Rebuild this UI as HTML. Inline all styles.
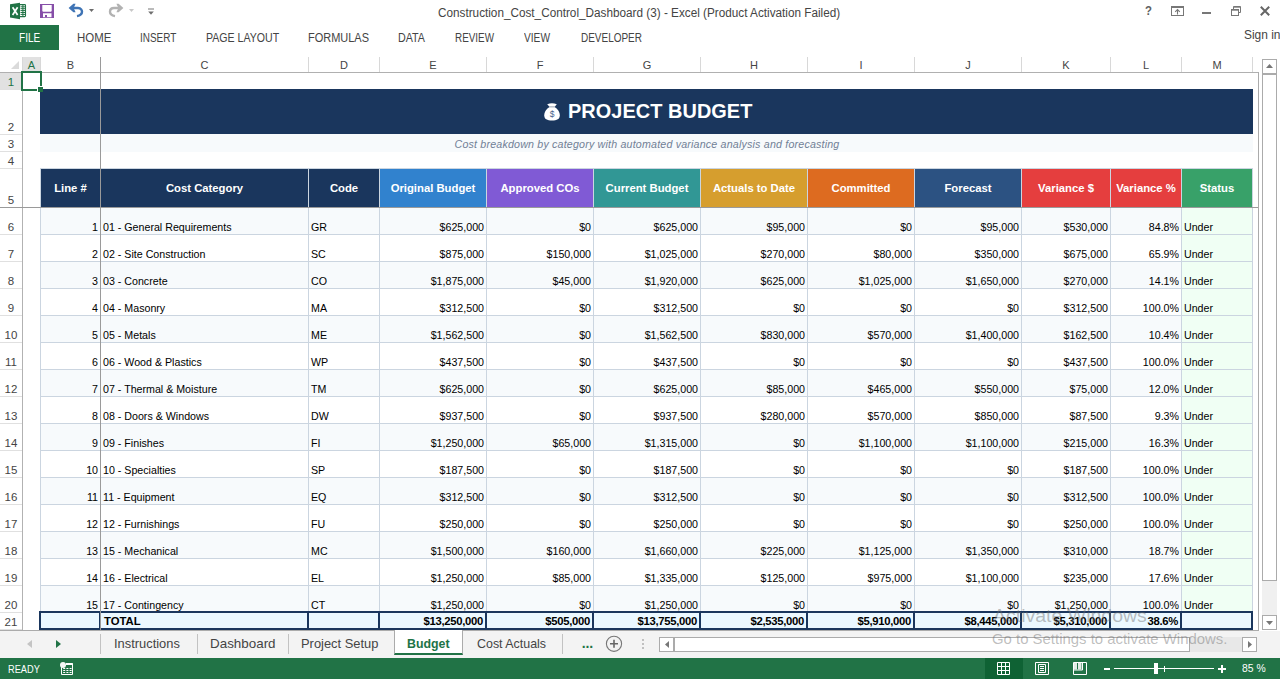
<!DOCTYPE html>
<html lang="en"><head><meta charset="utf-8"><title>Construction_Cost_Control_Dashboard (3) - Excel</title>
<style>
*{box-sizing:border-box;margin:0;padding:0}
html,body{width:1280px;height:679px;overflow:hidden;background:#fff}
body{position:relative;font-family:"Liberation Sans",sans-serif;color:#000}
.a{position:absolute;white-space:nowrap}
.ch{position:absolute;top:57px;height:15px;font-size:11px;line-height:17px;text-align:center;color:#444}
.vs{position:absolute;top:57px;width:1px;height:15px;background:#d8d8d8}
.rh{position:absolute;left:0;width:22px;font-size:11.5px;color:#444;text-align:center;border-bottom:1px solid #e0e0e0}
.rh span{position:absolute;left:0;right:0;bottom:0px;line-height:14px}
.hc{position:absolute;top:169px;height:38px;color:#fff;font-weight:bold;font-size:11.3px;text-align:center;line-height:38px}
.c{position:absolute;font-size:10.67px;overflow:hidden;color:#000}
.c span{position:absolute;bottom:0px;line-height:13px;white-space:nowrap}
.c.r span{right:2px}
.c.l span{left:2px}
.t{position:absolute;font-size:11.3px;font-weight:bold;background:#ebf8ff;overflow:hidden;color:#000}
.t span{position:absolute;bottom:0px;line-height:13px;white-space:nowrap}
.t.r span{right:2px;letter-spacing:-0.3px}
.t.l span{left:3px}
.ln{position:absolute;background:#cbd5e0}
.nb{position:absolute;background:#1a365d}
.sb{position:absolute;background:#fff;border:1px solid #ababab}
</style></head><body>

<div class="a" id="title" style="font-size:12px;line-height:20px;color:#444;left:437.70px;top:2.64px;transform-origin:0 0;transform:scaleX(0.9788);">Construction_Cost_Control_Dashboard (3) - Excel (Product Activation Failed)</div>
<svg class="a" style="left:10px;top:2px" width="17" height="18" viewBox="0 0 17 18">
<rect x="9" y="2.6" width="6.5" height="12" rx="0.8" fill="#fff" stroke="#217346" stroke-width="1.1"/>
<path d="M10.5 4.8h4.5M10.5 6.7h4.5M10.5 8.6h4.5M10.5 10.5h4.5M10.5 12.4h4.5M12.9 3v11" stroke="#217346" stroke-width="1" fill="none"/>
<path d="M0 2.2 L10 0.8 V17.2 L0 15.6Z" fill="#217346"/>
<path d="M2.6 5.2 L7.6 13 M7.6 5.2 L2.6 13" stroke="#fff" stroke-width="1.7" fill="none"/>
</svg>
<svg class="a" style="left:40px;top:4px" width="14" height="14" viewBox="0 0 14 14">
<path d="M0 0h14v14H0z M2.3 1v6l0.7 0.7h8l0.7-0.7V1z M3 9.2v4h8.5v-4z" fill="#864ea8" fill-rule="evenodd"/>
<rect x="5" y="11" width="2" height="2.2" fill="#864ea8"/>
</svg>
<svg class="a" style="left:68px;top:3px" width="16" height="15" viewBox="0 0 16 15">
<path d="M4 5 H10 C13.2 5 14 7.4 14 8.8 C14 11.3 12 12.6 9 13.1" fill="none" stroke="#3f74b5" stroke-width="2.4"/>
<path d="M0.6 5 L5.4 0.8 H7.6 L5.6 5 L7.6 9.2 H5.4Z" fill="#3f74b5"/>
</svg>
<svg class="a" style="left:89px;top:9px" width="5" height="3" viewBox="0 0 5 3"><path d="M0 0h5L2.5 3z" fill="#6a6a6a"/></svg>
<svg class="a" style="left:108px;top:3px" width="16" height="15" viewBox="0 0 16 15">
<path d="M12 5 H6 C2.8 5 2 7.4 2 8.8 C2 11.3 4 12.6 7 13.1" fill="none" stroke="#b2b2b2" stroke-width="2.4"/>
<path d="M15.4 5 L10.6 0.8 H8.4 L10.4 5 L8.4 9.2 H10.6Z" fill="#b2b2b2"/>
</svg>
<svg class="a" style="left:129px;top:9px" width="5" height="3" viewBox="0 0 5 3"><path d="M0 0h5L2.5 3z" fill="#c8c8c8"/></svg>
<svg class="a" style="left:148px;top:8px" width="6" height="7" viewBox="0 0 6 7"><path d="M0 1h6" stroke="#777" stroke-width="1"/><path d="M0.2 3.4h5.6L3 6.8z" fill="#6e6e6e"/></svg>
<div class="a" style="font-size:13px;line-height:20px;color:#606060;font-weight:bold;left:1145.00px;top:1.30px;transform-origin:0 0;transform:scaleX(0.8750);">?</div>
<svg class="a" style="left:1171px;top:6px" width="13" height="10" viewBox="0 0 13 10">
<rect x="0.5" y="0.5" width="12" height="9" fill="none" stroke="#777"/><path d="M0 1.5h13" stroke="#777"/>
<path d="M6.5 3.6V8.4M4.2 5.8L6.5 3.6L8.8 5.8" stroke="#777" fill="none" stroke-width="1.1"/></svg>
<div class="a" style="left:1202px;top:12px;width:9px;height:2px;background:#777"></div>
<svg class="a" style="left:1231px;top:6px" width="10" height="10" viewBox="0 0 10 10">
<path d="M2.5 3V0.5H9.5V6.5H7.5" fill="none" stroke="#777"/><path d="M2.5 1.2h7" stroke="#777"/>
<rect x="0.5" y="3.5" width="7" height="6" fill="#fff" stroke="#777"/><path d="M0.5 4.2h7" stroke="#777"/></svg>
<svg class="a" style="left:1260px;top:6px" width="10" height="10" viewBox="0 0 10 10"><path d="M0.8 0.8 L9.2 9.2 M9.2 0.8 L0.8 9.2" stroke="#666" stroke-width="2" fill="none"/></svg>
<div class="a" style="left:0;top:25px;width:59px;height:25px;background:#217346"></div>
<div class="a" style="font-size:12px;line-height:20px;color:#fff;left:19.20px;top:27.64px;transform-origin:0 0;transform:scaleX(0.8367);">FILE</div>
<div class="a" style="font-size:12px;line-height:20px;color:#444;left:76.50px;top:27.64px;transform-origin:0 0;transform:scaleX(0.9529);">HOME</div>
<div class="a" style="font-size:12px;line-height:20px;color:#444;left:139.67px;top:27.64px;transform-origin:0 0;transform:scaleX(0.8284);">INSERT</div>
<div class="a" style="font-size:12px;line-height:20px;color:#444;left:205.70px;top:27.64px;transform-origin:0 0;transform:scaleX(0.8818);">PAGE LAYOUT</div>
<div class="a" style="font-size:12px;line-height:20px;color:#444;left:308.20px;top:27.64px;transform-origin:0 0;transform:scaleX(0.9150);">FORMULAS</div>
<div class="a" style="font-size:12px;line-height:20px;color:#444;left:398.40px;top:27.64px;transform-origin:0 0;transform:scaleX(0.8935);">DATA</div>
<div class="a" style="font-size:12px;line-height:20px;color:#444;left:455.40px;top:27.64px;transform-origin:0 0;transform:scaleX(0.8227);">REVIEW</div>
<div class="a" style="font-size:12px;line-height:20px;color:#444;left:524.40px;top:27.64px;transform-origin:0 0;transform:scaleX(0.8487);">VIEW</div>
<div class="a" style="font-size:12px;line-height:20px;color:#444;left:580.50px;top:27.64px;transform-origin:0 0;transform:scaleX(0.8305);">DEVELOPER</div>
<div class="a" style="left:1244px;top:24.5px;font-size:12.3px;line-height:20px;color:#444;transform-origin:0 0;transform:scaleX(0.97)">Sign in</div>
<svg class="a" style="left:11px;top:61px" width="8" height="8" viewBox="0 0 8 8"><path d="M8 0V8H0z" fill="#dadada"/></svg>
<div class="ch" style="left:23px;width:17px;background:#e1e1e1;color:#217346;">A</div>
<div class="ch" style="left:41px;width:59px;">B</div>
<div class="ch" style="left:101px;width:207px;">C</div>
<div class="ch" style="left:309px;width:70px;">D</div>
<div class="ch" style="left:380px;width:106px;">E</div>
<div class="ch" style="left:487px;width:106px;">F</div>
<div class="ch" style="left:594px;width:106px;">G</div>
<div class="ch" style="left:701px;width:106px;">H</div>
<div class="ch" style="left:808px;width:106px;">I</div>
<div class="ch" style="left:915px;width:106px;">J</div>
<div class="ch" style="left:1022px;width:88px;">K</div>
<div class="ch" style="left:1111px;width:70px;">L</div>
<div class="ch" style="left:1182px;width:70px;">M</div>
<div class="vs" style="left:22px"></div>
<div class="vs" style="left:40px"></div>
<div class="vs" style="left:308px"></div>
<div class="vs" style="left:379px"></div>
<div class="vs" style="left:486px"></div>
<div class="vs" style="left:593px"></div>
<div class="vs" style="left:700px"></div>
<div class="vs" style="left:807px"></div>
<div class="vs" style="left:914px"></div>
<div class="vs" style="left:1021px"></div>
<div class="vs" style="left:1110px"></div>
<div class="vs" style="left:1181px"></div>
<div class="vs" style="left:1252px"></div>
<div class="a" style="left:0;top:72px;width:1259px;height:1px;background:#b0b0b0"></div>
<div class="rh" style="top:73px;height:17px;background:#e1e1e1;color:#217346;"><span>1</span></div>
<div class="rh" style="top:90px;height:45px;"><span>2</span></div>
<div class="rh" style="top:135px;height:17px;"><span>3</span></div>
<div class="rh" style="top:152px;height:17px;"><span>4</span></div>
<div class="rh" style="top:169px;height:39px;"><span>5</span></div>
<div class="rh" style="top:208px;height:27px;"><span>6</span></div>
<div class="rh" style="top:235px;height:27px;"><span>7</span></div>
<div class="rh" style="top:262px;height:27px;"><span>8</span></div>
<div class="rh" style="top:289px;height:27px;"><span>9</span></div>
<div class="rh" style="top:316px;height:27px;"><span>10</span></div>
<div class="rh" style="top:343px;height:27px;"><span>11</span></div>
<div class="rh" style="top:370px;height:27px;"><span>12</span></div>
<div class="rh" style="top:397px;height:27px;"><span>13</span></div>
<div class="rh" style="top:424px;height:27px;"><span>14</span></div>
<div class="rh" style="top:451px;height:27px;"><span>15</span></div>
<div class="rh" style="top:478px;height:27px;"><span>16</span></div>
<div class="rh" style="top:505px;height:27px;"><span>17</span></div>
<div class="rh" style="top:532px;height:27px;"><span>18</span></div>
<div class="rh" style="top:559px;height:27px;"><span>19</span></div>
<div class="rh" style="top:586px;height:27px;"><span>20</span></div>
<div class="rh" style="top:613px;height:17px;"><span>21</span></div>
<div class="a" style="left:22px;top:73px;width:1px;height:558px;background:#b2b2b2"></div>
<div class="a" style="left:40px;top:89px;width:1213px;height:45px;background:#1a365d"></div>
<div class="a" id="ttl" style="font-size:19.9px;line-height:20px;color:#fff;font-weight:bold;left:568.00px;top:101.35px;letter-spacing:0.069px;">PROJECT BUDGET</div>
<svg class="a" style="left:543.5px;top:102.8px" width="16" height="18" viewBox="0 0 16 18">
<path d="M3.2 1.3 Q8 -0.7 12.8 1.3 L11 3.5 H5.2Z" fill="#fff"/>
<rect x="5.2" y="3.3" width="5.8" height="1.1" fill="#cfd3d8"/>
<path d="M5.2 4.3 H10.9 C12.6 5.2 15.8 8.4 15.8 12.2 C15.8 16.2 13 17.4 8 17.4 C3 17.4 0.25 16.2 0.25 12.2 C0.25 8.4 3.5 5.2 5.2 4.3Z" fill="#fff"/>
<text x="8" y="13.6" font-size="8.5" text-anchor="middle" fill="#4a5f8a" font-family="Liberation Sans, sans-serif">$</text>
</svg>
<div class="a" style="left:40px;top:134px;width:1213px;height:18px;background:#f7fafc"></div>
<div class="a" id="sub" style="font-size:10.67px;line-height:20px;color:#718096;font-style:italic;left:454.50px;top:134.05px;letter-spacing:0.189px;">Cost breakdown by category with automated variance analysis and forecasting</div>
<div class="ln" style="left:40px;top:168px;width:1213px;height:1px"></div>
<div class="hc" style="left:41px;width:59px;background:#1a365d">Line #</div>
<div class="hc" style="left:101px;width:207px;background:#1a365d">Cost Category</div>
<div class="hc" style="left:309px;width:70px;background:#1a365d">Code</div>
<div class="hc" style="left:380px;width:106px;background:#3182ce">Original Budget</div>
<div class="hc" style="left:487px;width:106px;background:#805ad5">Approved COs</div>
<div class="hc" style="left:594px;width:106px;background:#319795">Current Budget</div>
<div class="hc" style="left:701px;width:106px;background:#d69e2e">Actuals to Date</div>
<div class="hc" style="left:808px;width:106px;background:#dd6b20">Committed</div>
<div class="hc" style="left:915px;width:106px;background:#2c5282">Forecast</div>
<div class="hc" style="left:1022px;width:88px;background:#e53e3e">Variance $</div>
<div class="hc" style="left:1111px;width:70px;background:#e53e3e">Variance %</div>
<div class="hc" style="left:1182px;width:70px;background:#38a169">Status</div>
<div class="ln" style="left:40px;top:168px;width:1px;height:39px"></div>
<div class="ln" style="left:100px;top:168px;width:1px;height:39px"></div>
<div class="ln" style="left:308px;top:168px;width:1px;height:39px"></div>
<div class="ln" style="left:379px;top:168px;width:1px;height:39px"></div>
<div class="ln" style="left:486px;top:168px;width:1px;height:39px"></div>
<div class="ln" style="left:593px;top:168px;width:1px;height:39px"></div>
<div class="ln" style="left:700px;top:168px;width:1px;height:39px"></div>
<div class="ln" style="left:807px;top:168px;width:1px;height:39px"></div>
<div class="ln" style="left:914px;top:168px;width:1px;height:39px"></div>
<div class="ln" style="left:1021px;top:168px;width:1px;height:39px"></div>
<div class="ln" style="left:1110px;top:168px;width:1px;height:39px"></div>
<div class="ln" style="left:1181px;top:168px;width:1px;height:39px"></div>
<div class="ln" style="left:1252px;top:168px;width:1px;height:39px"></div>
<div class="c r" style="left:41px;top:208px;width:59px;height:26px;background:#f7fafc"><span>1</span></div>
<div class="c l" style="left:101px;top:208px;width:207px;height:26px;background:#f7fafc"><span>01 - General Requirements</span></div>
<div class="c l" style="left:309px;top:208px;width:70px;height:26px;background:#f7fafc"><span>GR</span></div>
<div class="c r" style="left:380px;top:208px;width:106px;height:26px;background:#f7fafc"><span>$625,000</span></div>
<div class="c r" style="left:487px;top:208px;width:106px;height:26px;background:#f7fafc"><span>$0</span></div>
<div class="c r" style="left:594px;top:208px;width:106px;height:26px;background:#f7fafc"><span>$625,000</span></div>
<div class="c r" style="left:701px;top:208px;width:106px;height:26px;background:#f7fafc"><span>$95,000</span></div>
<div class="c r" style="left:808px;top:208px;width:106px;height:26px;background:#f7fafc"><span>$0</span></div>
<div class="c r" style="left:915px;top:208px;width:106px;height:26px;background:#f7fafc"><span>$95,000</span></div>
<div class="c r" style="left:1022px;top:208px;width:88px;height:26px;background:#f7fafc"><span>$530,000</span></div>
<div class="c r" style="left:1111px;top:208px;width:70px;height:26px;background:#f7fafc"><span>84.8%</span></div>
<div class="c l" style="left:1182px;top:208px;width:70px;height:26px;background:#f0fff4"><span>Under</span></div>
<div class="c r" style="left:41px;top:235px;width:59px;height:26px;background:#ffffff"><span>2</span></div>
<div class="c l" style="left:101px;top:235px;width:207px;height:26px;background:#ffffff"><span>02 - Site Construction</span></div>
<div class="c l" style="left:309px;top:235px;width:70px;height:26px;background:#ffffff"><span>SC</span></div>
<div class="c r" style="left:380px;top:235px;width:106px;height:26px;background:#ffffff"><span>$875,000</span></div>
<div class="c r" style="left:487px;top:235px;width:106px;height:26px;background:#ffffff"><span>$150,000</span></div>
<div class="c r" style="left:594px;top:235px;width:106px;height:26px;background:#ffffff"><span>$1,025,000</span></div>
<div class="c r" style="left:701px;top:235px;width:106px;height:26px;background:#ffffff"><span>$270,000</span></div>
<div class="c r" style="left:808px;top:235px;width:106px;height:26px;background:#ffffff"><span>$80,000</span></div>
<div class="c r" style="left:915px;top:235px;width:106px;height:26px;background:#ffffff"><span>$350,000</span></div>
<div class="c r" style="left:1022px;top:235px;width:88px;height:26px;background:#ffffff"><span>$675,000</span></div>
<div class="c r" style="left:1111px;top:235px;width:70px;height:26px;background:#ffffff"><span>65.9%</span></div>
<div class="c l" style="left:1182px;top:235px;width:70px;height:26px;background:#f0fff4"><span>Under</span></div>
<div class="c r" style="left:41px;top:262px;width:59px;height:26px;background:#f7fafc"><span>3</span></div>
<div class="c l" style="left:101px;top:262px;width:207px;height:26px;background:#f7fafc"><span>03 - Concrete</span></div>
<div class="c l" style="left:309px;top:262px;width:70px;height:26px;background:#f7fafc"><span>CO</span></div>
<div class="c r" style="left:380px;top:262px;width:106px;height:26px;background:#f7fafc"><span>$1,875,000</span></div>
<div class="c r" style="left:487px;top:262px;width:106px;height:26px;background:#f7fafc"><span>$45,000</span></div>
<div class="c r" style="left:594px;top:262px;width:106px;height:26px;background:#f7fafc"><span>$1,920,000</span></div>
<div class="c r" style="left:701px;top:262px;width:106px;height:26px;background:#f7fafc"><span>$625,000</span></div>
<div class="c r" style="left:808px;top:262px;width:106px;height:26px;background:#f7fafc"><span>$1,025,000</span></div>
<div class="c r" style="left:915px;top:262px;width:106px;height:26px;background:#f7fafc"><span>$1,650,000</span></div>
<div class="c r" style="left:1022px;top:262px;width:88px;height:26px;background:#f7fafc"><span>$270,000</span></div>
<div class="c r" style="left:1111px;top:262px;width:70px;height:26px;background:#f7fafc"><span>14.1%</span></div>
<div class="c l" style="left:1182px;top:262px;width:70px;height:26px;background:#f0fff4"><span>Under</span></div>
<div class="c r" style="left:41px;top:289px;width:59px;height:26px;background:#ffffff"><span>4</span></div>
<div class="c l" style="left:101px;top:289px;width:207px;height:26px;background:#ffffff"><span>04 - Masonry</span></div>
<div class="c l" style="left:309px;top:289px;width:70px;height:26px;background:#ffffff"><span>MA</span></div>
<div class="c r" style="left:380px;top:289px;width:106px;height:26px;background:#ffffff"><span>$312,500</span></div>
<div class="c r" style="left:487px;top:289px;width:106px;height:26px;background:#ffffff"><span>$0</span></div>
<div class="c r" style="left:594px;top:289px;width:106px;height:26px;background:#ffffff"><span>$312,500</span></div>
<div class="c r" style="left:701px;top:289px;width:106px;height:26px;background:#ffffff"><span>$0</span></div>
<div class="c r" style="left:808px;top:289px;width:106px;height:26px;background:#ffffff"><span>$0</span></div>
<div class="c r" style="left:915px;top:289px;width:106px;height:26px;background:#ffffff"><span>$0</span></div>
<div class="c r" style="left:1022px;top:289px;width:88px;height:26px;background:#ffffff"><span>$312,500</span></div>
<div class="c r" style="left:1111px;top:289px;width:70px;height:26px;background:#ffffff"><span>100.0%</span></div>
<div class="c l" style="left:1182px;top:289px;width:70px;height:26px;background:#f0fff4"><span>Under</span></div>
<div class="c r" style="left:41px;top:316px;width:59px;height:26px;background:#f7fafc"><span>5</span></div>
<div class="c l" style="left:101px;top:316px;width:207px;height:26px;background:#f7fafc"><span>05 - Metals</span></div>
<div class="c l" style="left:309px;top:316px;width:70px;height:26px;background:#f7fafc"><span>ME</span></div>
<div class="c r" style="left:380px;top:316px;width:106px;height:26px;background:#f7fafc"><span>$1,562,500</span></div>
<div class="c r" style="left:487px;top:316px;width:106px;height:26px;background:#f7fafc"><span>$0</span></div>
<div class="c r" style="left:594px;top:316px;width:106px;height:26px;background:#f7fafc"><span>$1,562,500</span></div>
<div class="c r" style="left:701px;top:316px;width:106px;height:26px;background:#f7fafc"><span>$830,000</span></div>
<div class="c r" style="left:808px;top:316px;width:106px;height:26px;background:#f7fafc"><span>$570,000</span></div>
<div class="c r" style="left:915px;top:316px;width:106px;height:26px;background:#f7fafc"><span>$1,400,000</span></div>
<div class="c r" style="left:1022px;top:316px;width:88px;height:26px;background:#f7fafc"><span>$162,500</span></div>
<div class="c r" style="left:1111px;top:316px;width:70px;height:26px;background:#f7fafc"><span>10.4%</span></div>
<div class="c l" style="left:1182px;top:316px;width:70px;height:26px;background:#f0fff4"><span>Under</span></div>
<div class="c r" style="left:41px;top:343px;width:59px;height:26px;background:#ffffff"><span>6</span></div>
<div class="c l" style="left:101px;top:343px;width:207px;height:26px;background:#ffffff"><span>06 - Wood &amp; Plastics</span></div>
<div class="c l" style="left:309px;top:343px;width:70px;height:26px;background:#ffffff"><span>WP</span></div>
<div class="c r" style="left:380px;top:343px;width:106px;height:26px;background:#ffffff"><span>$437,500</span></div>
<div class="c r" style="left:487px;top:343px;width:106px;height:26px;background:#ffffff"><span>$0</span></div>
<div class="c r" style="left:594px;top:343px;width:106px;height:26px;background:#ffffff"><span>$437,500</span></div>
<div class="c r" style="left:701px;top:343px;width:106px;height:26px;background:#ffffff"><span>$0</span></div>
<div class="c r" style="left:808px;top:343px;width:106px;height:26px;background:#ffffff"><span>$0</span></div>
<div class="c r" style="left:915px;top:343px;width:106px;height:26px;background:#ffffff"><span>$0</span></div>
<div class="c r" style="left:1022px;top:343px;width:88px;height:26px;background:#ffffff"><span>$437,500</span></div>
<div class="c r" style="left:1111px;top:343px;width:70px;height:26px;background:#ffffff"><span>100.0%</span></div>
<div class="c l" style="left:1182px;top:343px;width:70px;height:26px;background:#f0fff4"><span>Under</span></div>
<div class="c r" style="left:41px;top:370px;width:59px;height:26px;background:#f7fafc"><span>7</span></div>
<div class="c l" style="left:101px;top:370px;width:207px;height:26px;background:#f7fafc"><span>07 - Thermal &amp; Moisture</span></div>
<div class="c l" style="left:309px;top:370px;width:70px;height:26px;background:#f7fafc"><span>TM</span></div>
<div class="c r" style="left:380px;top:370px;width:106px;height:26px;background:#f7fafc"><span>$625,000</span></div>
<div class="c r" style="left:487px;top:370px;width:106px;height:26px;background:#f7fafc"><span>$0</span></div>
<div class="c r" style="left:594px;top:370px;width:106px;height:26px;background:#f7fafc"><span>$625,000</span></div>
<div class="c r" style="left:701px;top:370px;width:106px;height:26px;background:#f7fafc"><span>$85,000</span></div>
<div class="c r" style="left:808px;top:370px;width:106px;height:26px;background:#f7fafc"><span>$465,000</span></div>
<div class="c r" style="left:915px;top:370px;width:106px;height:26px;background:#f7fafc"><span>$550,000</span></div>
<div class="c r" style="left:1022px;top:370px;width:88px;height:26px;background:#f7fafc"><span>$75,000</span></div>
<div class="c r" style="left:1111px;top:370px;width:70px;height:26px;background:#f7fafc"><span>12.0%</span></div>
<div class="c l" style="left:1182px;top:370px;width:70px;height:26px;background:#f0fff4"><span>Under</span></div>
<div class="c r" style="left:41px;top:397px;width:59px;height:26px;background:#ffffff"><span>8</span></div>
<div class="c l" style="left:101px;top:397px;width:207px;height:26px;background:#ffffff"><span>08 - Doors &amp; Windows</span></div>
<div class="c l" style="left:309px;top:397px;width:70px;height:26px;background:#ffffff"><span>DW</span></div>
<div class="c r" style="left:380px;top:397px;width:106px;height:26px;background:#ffffff"><span>$937,500</span></div>
<div class="c r" style="left:487px;top:397px;width:106px;height:26px;background:#ffffff"><span>$0</span></div>
<div class="c r" style="left:594px;top:397px;width:106px;height:26px;background:#ffffff"><span>$937,500</span></div>
<div class="c r" style="left:701px;top:397px;width:106px;height:26px;background:#ffffff"><span>$280,000</span></div>
<div class="c r" style="left:808px;top:397px;width:106px;height:26px;background:#ffffff"><span>$570,000</span></div>
<div class="c r" style="left:915px;top:397px;width:106px;height:26px;background:#ffffff"><span>$850,000</span></div>
<div class="c r" style="left:1022px;top:397px;width:88px;height:26px;background:#ffffff"><span>$87,500</span></div>
<div class="c r" style="left:1111px;top:397px;width:70px;height:26px;background:#ffffff"><span>9.3%</span></div>
<div class="c l" style="left:1182px;top:397px;width:70px;height:26px;background:#f0fff4"><span>Under</span></div>
<div class="c r" style="left:41px;top:424px;width:59px;height:26px;background:#f7fafc"><span>9</span></div>
<div class="c l" style="left:101px;top:424px;width:207px;height:26px;background:#f7fafc"><span>09 - Finishes</span></div>
<div class="c l" style="left:309px;top:424px;width:70px;height:26px;background:#f7fafc"><span>FI</span></div>
<div class="c r" style="left:380px;top:424px;width:106px;height:26px;background:#f7fafc"><span>$1,250,000</span></div>
<div class="c r" style="left:487px;top:424px;width:106px;height:26px;background:#f7fafc"><span>$65,000</span></div>
<div class="c r" style="left:594px;top:424px;width:106px;height:26px;background:#f7fafc"><span>$1,315,000</span></div>
<div class="c r" style="left:701px;top:424px;width:106px;height:26px;background:#f7fafc"><span>$0</span></div>
<div class="c r" style="left:808px;top:424px;width:106px;height:26px;background:#f7fafc"><span>$1,100,000</span></div>
<div class="c r" style="left:915px;top:424px;width:106px;height:26px;background:#f7fafc"><span>$1,100,000</span></div>
<div class="c r" style="left:1022px;top:424px;width:88px;height:26px;background:#f7fafc"><span>$215,000</span></div>
<div class="c r" style="left:1111px;top:424px;width:70px;height:26px;background:#f7fafc"><span>16.3%</span></div>
<div class="c l" style="left:1182px;top:424px;width:70px;height:26px;background:#f0fff4"><span>Under</span></div>
<div class="c r" style="left:41px;top:451px;width:59px;height:26px;background:#ffffff"><span>10</span></div>
<div class="c l" style="left:101px;top:451px;width:207px;height:26px;background:#ffffff"><span>10 - Specialties</span></div>
<div class="c l" style="left:309px;top:451px;width:70px;height:26px;background:#ffffff"><span>SP</span></div>
<div class="c r" style="left:380px;top:451px;width:106px;height:26px;background:#ffffff"><span>$187,500</span></div>
<div class="c r" style="left:487px;top:451px;width:106px;height:26px;background:#ffffff"><span>$0</span></div>
<div class="c r" style="left:594px;top:451px;width:106px;height:26px;background:#ffffff"><span>$187,500</span></div>
<div class="c r" style="left:701px;top:451px;width:106px;height:26px;background:#ffffff"><span>$0</span></div>
<div class="c r" style="left:808px;top:451px;width:106px;height:26px;background:#ffffff"><span>$0</span></div>
<div class="c r" style="left:915px;top:451px;width:106px;height:26px;background:#ffffff"><span>$0</span></div>
<div class="c r" style="left:1022px;top:451px;width:88px;height:26px;background:#ffffff"><span>$187,500</span></div>
<div class="c r" style="left:1111px;top:451px;width:70px;height:26px;background:#ffffff"><span>100.0%</span></div>
<div class="c l" style="left:1182px;top:451px;width:70px;height:26px;background:#f0fff4"><span>Under</span></div>
<div class="c r" style="left:41px;top:478px;width:59px;height:26px;background:#f7fafc"><span>11</span></div>
<div class="c l" style="left:101px;top:478px;width:207px;height:26px;background:#f7fafc"><span>11 - Equipment</span></div>
<div class="c l" style="left:309px;top:478px;width:70px;height:26px;background:#f7fafc"><span>EQ</span></div>
<div class="c r" style="left:380px;top:478px;width:106px;height:26px;background:#f7fafc"><span>$312,500</span></div>
<div class="c r" style="left:487px;top:478px;width:106px;height:26px;background:#f7fafc"><span>$0</span></div>
<div class="c r" style="left:594px;top:478px;width:106px;height:26px;background:#f7fafc"><span>$312,500</span></div>
<div class="c r" style="left:701px;top:478px;width:106px;height:26px;background:#f7fafc"><span>$0</span></div>
<div class="c r" style="left:808px;top:478px;width:106px;height:26px;background:#f7fafc"><span>$0</span></div>
<div class="c r" style="left:915px;top:478px;width:106px;height:26px;background:#f7fafc"><span>$0</span></div>
<div class="c r" style="left:1022px;top:478px;width:88px;height:26px;background:#f7fafc"><span>$312,500</span></div>
<div class="c r" style="left:1111px;top:478px;width:70px;height:26px;background:#f7fafc"><span>100.0%</span></div>
<div class="c l" style="left:1182px;top:478px;width:70px;height:26px;background:#f0fff4"><span>Under</span></div>
<div class="c r" style="left:41px;top:505px;width:59px;height:26px;background:#ffffff"><span>12</span></div>
<div class="c l" style="left:101px;top:505px;width:207px;height:26px;background:#ffffff"><span>12 - Furnishings</span></div>
<div class="c l" style="left:309px;top:505px;width:70px;height:26px;background:#ffffff"><span>FU</span></div>
<div class="c r" style="left:380px;top:505px;width:106px;height:26px;background:#ffffff"><span>$250,000</span></div>
<div class="c r" style="left:487px;top:505px;width:106px;height:26px;background:#ffffff"><span>$0</span></div>
<div class="c r" style="left:594px;top:505px;width:106px;height:26px;background:#ffffff"><span>$250,000</span></div>
<div class="c r" style="left:701px;top:505px;width:106px;height:26px;background:#ffffff"><span>$0</span></div>
<div class="c r" style="left:808px;top:505px;width:106px;height:26px;background:#ffffff"><span>$0</span></div>
<div class="c r" style="left:915px;top:505px;width:106px;height:26px;background:#ffffff"><span>$0</span></div>
<div class="c r" style="left:1022px;top:505px;width:88px;height:26px;background:#ffffff"><span>$250,000</span></div>
<div class="c r" style="left:1111px;top:505px;width:70px;height:26px;background:#ffffff"><span>100.0%</span></div>
<div class="c l" style="left:1182px;top:505px;width:70px;height:26px;background:#f0fff4"><span>Under</span></div>
<div class="c r" style="left:41px;top:532px;width:59px;height:26px;background:#f7fafc"><span>13</span></div>
<div class="c l" style="left:101px;top:532px;width:207px;height:26px;background:#f7fafc"><span>15 - Mechanical</span></div>
<div class="c l" style="left:309px;top:532px;width:70px;height:26px;background:#f7fafc"><span>MC</span></div>
<div class="c r" style="left:380px;top:532px;width:106px;height:26px;background:#f7fafc"><span>$1,500,000</span></div>
<div class="c r" style="left:487px;top:532px;width:106px;height:26px;background:#f7fafc"><span>$160,000</span></div>
<div class="c r" style="left:594px;top:532px;width:106px;height:26px;background:#f7fafc"><span>$1,660,000</span></div>
<div class="c r" style="left:701px;top:532px;width:106px;height:26px;background:#f7fafc"><span>$225,000</span></div>
<div class="c r" style="left:808px;top:532px;width:106px;height:26px;background:#f7fafc"><span>$1,125,000</span></div>
<div class="c r" style="left:915px;top:532px;width:106px;height:26px;background:#f7fafc"><span>$1,350,000</span></div>
<div class="c r" style="left:1022px;top:532px;width:88px;height:26px;background:#f7fafc"><span>$310,000</span></div>
<div class="c r" style="left:1111px;top:532px;width:70px;height:26px;background:#f7fafc"><span>18.7%</span></div>
<div class="c l" style="left:1182px;top:532px;width:70px;height:26px;background:#f0fff4"><span>Under</span></div>
<div class="c r" style="left:41px;top:559px;width:59px;height:26px;background:#ffffff"><span>14</span></div>
<div class="c l" style="left:101px;top:559px;width:207px;height:26px;background:#ffffff"><span>16 - Electrical</span></div>
<div class="c l" style="left:309px;top:559px;width:70px;height:26px;background:#ffffff"><span>EL</span></div>
<div class="c r" style="left:380px;top:559px;width:106px;height:26px;background:#ffffff"><span>$1,250,000</span></div>
<div class="c r" style="left:487px;top:559px;width:106px;height:26px;background:#ffffff"><span>$85,000</span></div>
<div class="c r" style="left:594px;top:559px;width:106px;height:26px;background:#ffffff"><span>$1,335,000</span></div>
<div class="c r" style="left:701px;top:559px;width:106px;height:26px;background:#ffffff"><span>$125,000</span></div>
<div class="c r" style="left:808px;top:559px;width:106px;height:26px;background:#ffffff"><span>$975,000</span></div>
<div class="c r" style="left:915px;top:559px;width:106px;height:26px;background:#ffffff"><span>$1,100,000</span></div>
<div class="c r" style="left:1022px;top:559px;width:88px;height:26px;background:#ffffff"><span>$235,000</span></div>
<div class="c r" style="left:1111px;top:559px;width:70px;height:26px;background:#ffffff"><span>17.6%</span></div>
<div class="c l" style="left:1182px;top:559px;width:70px;height:26px;background:#f0fff4"><span>Under</span></div>
<div class="c r" style="left:41px;top:586px;width:59px;height:26px;background:#f7fafc"><span>15</span></div>
<div class="c l" style="left:101px;top:586px;width:207px;height:26px;background:#f7fafc"><span>17 - Contingency</span></div>
<div class="c l" style="left:309px;top:586px;width:70px;height:26px;background:#f7fafc"><span>CT</span></div>
<div class="c r" style="left:380px;top:586px;width:106px;height:26px;background:#f7fafc"><span>$1,250,000</span></div>
<div class="c r" style="left:487px;top:586px;width:106px;height:26px;background:#f7fafc"><span>$0</span></div>
<div class="c r" style="left:594px;top:586px;width:106px;height:26px;background:#f7fafc"><span>$1,250,000</span></div>
<div class="c r" style="left:701px;top:586px;width:106px;height:26px;background:#f7fafc"><span>$0</span></div>
<div class="c r" style="left:808px;top:586px;width:106px;height:26px;background:#f7fafc"><span>$0</span></div>
<div class="c r" style="left:915px;top:586px;width:106px;height:26px;background:#f7fafc"><span>$0</span></div>
<div class="c r" style="left:1022px;top:586px;width:88px;height:26px;background:#f7fafc"><span>$1,250,000</span></div>
<div class="c r" style="left:1111px;top:586px;width:70px;height:26px;background:#f7fafc"><span>100.0%</span></div>
<div class="c l" style="left:1182px;top:586px;width:70px;height:26px;background:#f0fff4"><span>Under</span></div>
<div class="ln" style="left:40px;top:208px;width:1px;height:404px"></div>
<div class="ln" style="left:100px;top:208px;width:1px;height:404px"></div>
<div class="ln" style="left:308px;top:208px;width:1px;height:404px"></div>
<div class="ln" style="left:379px;top:208px;width:1px;height:404px"></div>
<div class="ln" style="left:486px;top:208px;width:1px;height:404px"></div>
<div class="ln" style="left:593px;top:208px;width:1px;height:404px"></div>
<div class="ln" style="left:700px;top:208px;width:1px;height:404px"></div>
<div class="ln" style="left:807px;top:208px;width:1px;height:404px"></div>
<div class="ln" style="left:914px;top:208px;width:1px;height:404px"></div>
<div class="ln" style="left:1021px;top:208px;width:1px;height:404px"></div>
<div class="ln" style="left:1110px;top:208px;width:1px;height:404px"></div>
<div class="ln" style="left:1181px;top:208px;width:1px;height:404px"></div>
<div class="ln" style="left:1252px;top:208px;width:1px;height:404px"></div>
<div class="ln" style="left:40px;top:234px;width:1213px;height:1px"></div>
<div class="ln" style="left:40px;top:261px;width:1213px;height:1px"></div>
<div class="ln" style="left:40px;top:288px;width:1213px;height:1px"></div>
<div class="ln" style="left:40px;top:315px;width:1213px;height:1px"></div>
<div class="ln" style="left:40px;top:342px;width:1213px;height:1px"></div>
<div class="ln" style="left:40px;top:369px;width:1213px;height:1px"></div>
<div class="ln" style="left:40px;top:396px;width:1213px;height:1px"></div>
<div class="ln" style="left:40px;top:423px;width:1213px;height:1px"></div>
<div class="ln" style="left:40px;top:450px;width:1213px;height:1px"></div>
<div class="ln" style="left:40px;top:477px;width:1213px;height:1px"></div>
<div class="ln" style="left:40px;top:504px;width:1213px;height:1px"></div>
<div class="ln" style="left:40px;top:531px;width:1213px;height:1px"></div>
<div class="ln" style="left:40px;top:558px;width:1213px;height:1px"></div>
<div class="ln" style="left:40px;top:585px;width:1213px;height:1px"></div>
<div class="nb" style="left:39px;top:611px;width:1214px;height:19px"></div>
<div class="t r" style="left:41px;top:613px;width:58px;height:15px"><span></span></div>
<div class="t l" style="left:101px;top:613px;width:206px;height:15px"><span>TOTAL</span></div>
<div class="t l" style="left:309px;top:613px;width:69px;height:15px"><span></span></div>
<div class="t r" style="left:380px;top:613px;width:105px;height:15px"><span>$13,250,000</span></div>
<div class="t r" style="left:487px;top:613px;width:105px;height:15px"><span>$505,000</span></div>
<div class="t r" style="left:594px;top:613px;width:105px;height:15px"><span>$13,755,000</span></div>
<div class="t r" style="left:701px;top:613px;width:105px;height:15px"><span>$2,535,000</span></div>
<div class="t r" style="left:808px;top:613px;width:105px;height:15px"><span>$5,910,000</span></div>
<div class="t r" style="left:915px;top:613px;width:105px;height:15px"><span>$8,445,000</span></div>
<div class="t r" style="left:1022px;top:613px;width:87px;height:15px"><span>$5,310,000</span></div>
<div class="t r" style="left:1111px;top:613px;width:69px;height:15px"><span>38.6%</span></div>
<div class="t l" style="left:1182px;top:613px;width:69px;height:15px"><span></span></div>
<div class="a" style="left:100px;top:57px;width:1px;height:574px;background:#9a9a9a"></div>
<div class="a" style="left:0;top:207px;width:1259px;height:1px;background:#9a9a9a"></div>
<div class="a" style="left:21px;top:71px;width:21px;height:20px;border:2px solid #217346"></div>
<div class="a" style="left:37px;top:86px;width:6px;height:6px;background:#217346;border:1px solid #fff;border-right:0;border-bottom:0"></div>
<div class="a" style="left:1258px;top:72px;width:1px;height:559px;background:#ababab"></div>
<div class="sb" style="left:1262px;top:59px;width:15px;height:15px"></div>
<svg class="a" style="left:1266px;top:64px" width="7" height="4" viewBox="0 0 7 4"><path d="M0 4h7L3.5 0z" fill="#777"/></svg>
<div class="a" style="left:1262px;top:581px;width:15px;height:34px;background:#f0f0f0"></div>
<div class="sb" style="left:1262px;top:74px;width:15px;height:507px"></div>
<div class="sb" style="left:1262px;top:615px;width:15px;height:15px"></div>
<svg class="a" style="left:1266px;top:621px" width="7" height="4" viewBox="0 0 7 4"><path d="M0 0h7L3.5 4z" fill="#777"/></svg>
<div class="a" style="left:0;top:630px;width:1259px;height:1px;background:#ababab"></div>
<div class="a" style="left:0;top:631px;width:1280px;height:27px;background:#f3f3f3"></div>
<svg class="a" style="left:27px;top:640px" width="5" height="8" viewBox="0 0 5 8"><path d="M5 0V8L0 4z" fill="#c4c4c4"/></svg>
<svg class="a" style="left:55.5px;top:639.5px" width="5" height="8" viewBox="0 0 5 8"><path d="M0 0V8L5 4z" fill="#217346"/></svg>
<div class="a" style="left:100px;top:634px;width:1px;height:20px;background:#c2c2c2"></div>
<div class="a" style="left:197px;top:634px;width:1px;height:20px;background:#c2c2c2"></div>
<div class="a" style="left:288px;top:634px;width:1px;height:20px;background:#c2c2c2"></div>
<div class="a" style="left:562px;top:634px;width:1px;height:20px;background:#c2c2c2"></div>
<div class="a" style="font-size:13.3px;line-height:20px;color:#444;left:114.43px;top:633.59px;transform-origin:0 0;transform:scaleX(0.9682);">Instructions</div>
<div class="a" style="font-size:13.3px;line-height:20px;color:#444;left:209.59px;top:633.59px;transform-origin:0 0;transform:scaleX(1.0078);">Dashboard</div>
<div class="a" style="font-size:13.3px;line-height:20px;color:#444;left:301.28px;top:633.59px;transform-origin:0 0;transform:scaleX(0.9684);">Project Setup</div>
<div class="a" style="left:394px;top:630px;width:69px;height:25px;background:#fff;border-left:1px solid #ababab;border-right:1px solid #ababab;border-bottom:2px solid #217346"></div>
<div class="a" style="font-size:13.3px;line-height:20px;color:#217346;font-weight:bold;left:406.90px;top:633.59px;transform-origin:0 0;transform:scaleX(0.9296);">Budget</div>
<div class="a" style="font-size:13.3px;line-height:20px;color:#444;left:476.50px;top:633.59px;transform-origin:0 0;transform:scaleX(0.9348);">Cost Actuals</div>
<div class="a" style="font-size:14px;line-height:20px;color:#217346;font-weight:bold;left:581.70px;top:633.45px;letter-spacing:-0.140px;">...</div>
<svg class="a" style="left:605px;top:635px" width="18" height="18" viewBox="0 0 18 18"><circle cx="9" cy="8.8" r="7.6" fill="none" stroke="#777" stroke-width="1.1"/><path d="M9 4.8v8M5 8.8h8" stroke="#666" stroke-width="1.6"/></svg>
<div class="a" style="left:642px;top:639px;width:2px;height:2px;background:#c0c0c0;box-shadow:0 4px 0 #c0c0c0,0 8px 0 #c0c0c0"></div>
<div class="sb" style="left:659px;top:637px;width:15px;height:15px"></div>
<svg class="a" style="left:664.5px;top:641px" width="4" height="7" viewBox="0 0 4 7"><path d="M4 0V7L0 3.5z" fill="#777"/></svg>
<div class="a" style="left:1190px;top:637px;width:52px;height:15px;background:#e8e8e8"></div>
<div class="sb" style="left:674px;top:637px;width:516px;height:15px"></div>
<div class="sb" style="left:1242px;top:637px;width:15px;height:15px"></div>
<svg class="a" style="left:1248px;top:641px" width="4" height="7" viewBox="0 0 4 7"><path d="M0 0V7L4 3.5z" fill="#777"/></svg>
<div class="a" style="font-size:18px;line-height:20px;color:rgba(110,110,110,0.45);left:993.20px;top:605.66px;transform-origin:0 0;transform:scaleX(1.0827);">Activate Windows</div>
<div class="a" style="font-size:14.3px;line-height:20px;color:rgba(110,110,110,0.45);left:991.80px;top:628.75px;transform-origin:0 0;transform:scaleX(1.0431);">Go to Settings to activate Windows.</div>
<div class="a" style="left:0;top:658px;width:1280px;height:21px;background:#217346"></div>
<div class="a" style="font-size:11px;line-height:20px;color:#fff;left:7.70px;top:658.99px;transform-origin:0 0;transform:scaleX(0.8402);">READY</div>
<svg class="a" style="left:60px;top:662px" width="14" height="13" viewBox="0 0 14 13">
<path d="M1.5 4V12.5H12.5V1.5H6" fill="none" stroke="#fff"/><path d="M6 2h6.5" stroke="#fff" stroke-width="2"/>
<path d="M3.2 6.5h2M6.4 6.5h2M9.6 6.5h2M3.2 8.5h2M6.4 8.5h2M9.6 8.5h2M3.2 10.5h2M6.4 10.5h2M9.6 10.5h2" stroke="#fff" stroke-width="1"/>
<circle cx="3" cy="3" r="3" fill="#f4f8f5"/></svg>
<div class="a" style="left:985px;top:658px;width:38px;height:21px;background:#0f6234"></div>
<svg class="a" style="left:997px;top:662px" width="13" height="13" viewBox="0 0 13 13"><path d="M0.5 0.5h12v12h-12zM4.5 0.5v12M8.5 0.5v12M0.5 4.5h12M0.5 8.5h12" fill="none" stroke="#fff"/></svg>
<svg class="a" style="left:1035px;top:662px" width="14" height="13" viewBox="0 0 14 13"><path d="M0.5 0.5h13v12h-13z" fill="none" stroke="#fff"/><path d="M3.5 2.5h7v8h-7zM5 4.5h4M5 6.5h4M5 8.5h4" fill="none" stroke="#fff"/></svg>
<svg class="a" style="left:1073px;top:662px" width="14" height="13" viewBox="0 0 14 13"><path d="M0.5 0.5h13v12h-13z" fill="none" stroke="#fff"/><path d="M1 1h3v6.5H1zM5 1h3.5v6.5H5z" fill="#e4ece6"/><path d="M1 8h8.5V1" fill="none" stroke="#fff"/></svg>
<div class="a" style="left:1104px;top:668px;width:6px;height:2px;background:#fff"></div>
<div class="a" style="left:1114px;top:668px;width:100px;height:1px;background:#fff"></div>
<div class="a" style="left:1154px;top:663px;width:4px;height:11px;background:#fff"></div>
<div class="a" style="left:1164px;top:666px;width:1px;height:6px;background:#fff"></div>
<div class="a" style="left:1218px;top:668px;width:8px;height:2px;background:#fff"></div>
<div class="a" style="left:1221px;top:665px;width:2px;height:8px;background:#fff"></div>
<div class="a" style="font-size:11px;line-height:20px;color:#fff;left:1242.20px;top:658.09px;transform-origin:0 0;transform:scaleX(0.9410);">85 %</div>
</body></html>
